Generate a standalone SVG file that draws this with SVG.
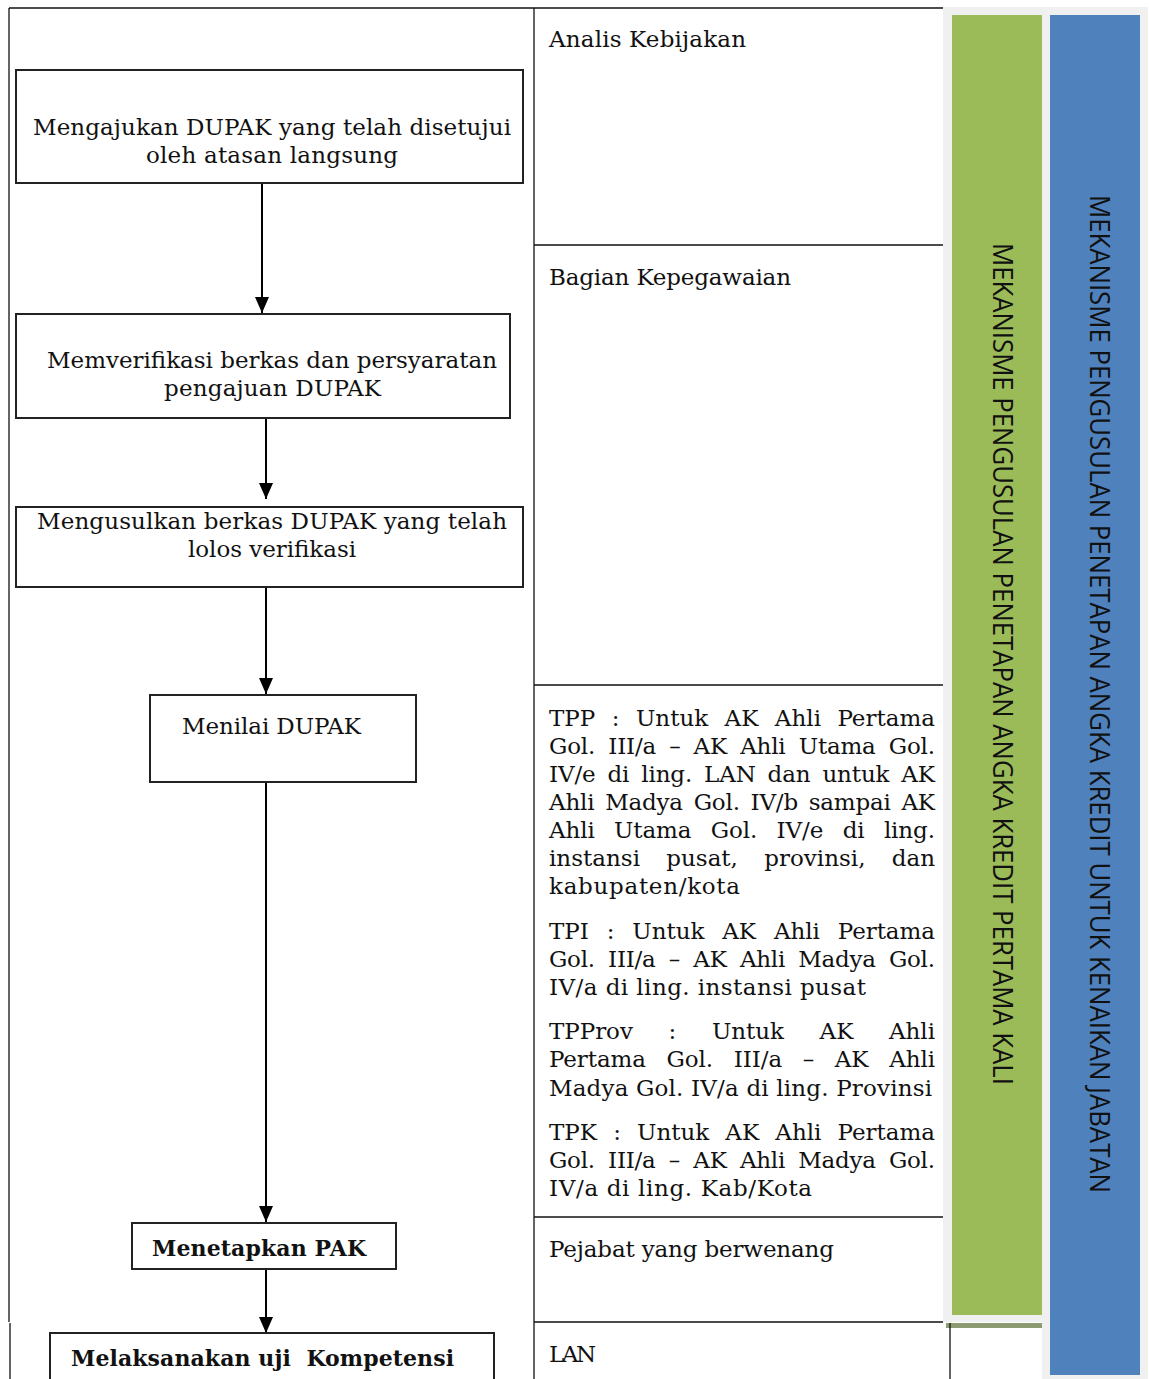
<svg xmlns="http://www.w3.org/2000/svg" width="1149" height="1379" viewBox="0 0 1149 1379">
<defs>
<style>
.t{font-family:"DejaVu Serif","Liberation Serif",serif;font-size:23px;fill:#111}
.b{font-family:"DejaVu Serif","Liberation Serif",serif;font-size:22px;font-weight:bold;fill:#111}
.v{font-family:"Open Sans","Noto Sans",sans-serif;font-size:28px;fill:#111}
.grid{stroke:#111;stroke-width:1.3;fill:none}
.box{fill:#fff;stroke:#222;stroke-width:2}
.con{stroke:#000;stroke-width:2;fill:none;marker-end:url(#arr)}
</style>
<marker id="arr" markerUnits="userSpaceOnUse" markerWidth="16" markerHeight="18" refX="16" refY="7" orient="auto">
<path d="M0,0 L16,7 L0,14 Z" fill="#000"/>
</marker>
</defs>
<rect width="1149" height="1379" fill="#fff"/>
<g id="side-panel">
<path d="M943,7 H1148 V1379 H1042 V1322 H943 Z" fill="#f0f0f0"/>
<rect x="946" y="1323" width="96" height="5" fill="#8c9a72"/>
</g>
<g id="table-grid" class="grid">
<path d="M9,8 H943"/>
<path d="M9,8 V1322"/>
<path d="M10,1323 V1379"/>
<path d="M534,8 V1379"/>
<path d="M534,245 H943"/>
<path d="M534,685 H943"/>
<path d="M534,1217 H943"/>
<path d="M534,1322 H943"/>
<path d="M950,1323 V1379"/>
</g>
<g id="bar-green">
<rect x="952" y="15" width="90" height="1300" fill="#9bbb59"/>
<text class="v" transform="translate(993,664) rotate(90)" text-anchor="middle" textLength="842" lengthAdjust="spacingAndGlyphs">MEKANISME PENGUSULAN PENETAPAN ANGKA KREDIT PERTAMA KALI</text>
</g>
<g id="bar-blue">
<rect x="1050" y="15" width="90" height="1360" fill="#4f81bd"/>
<text class="v" transform="translate(1090,694) rotate(90)" text-anchor="middle" textLength="998" lengthAdjust="spacingAndGlyphs">MEKANISME PENGUSULAN PENETAPAN ANGKA KREDIT UNTUK KENAIKAN JABATAN</text>
</g>
<g id="connectors">
<path class="con" d="M262,183 V313"/>
<path class="con" d="M266,418 V499"/>
<path class="con" d="M266,580 V694"/>
<path class="con" d="M266,765 V1222"/>
<path class="con" d="M266,1269 V1333"/>
</g>
<g id="node-1">
<rect class="box" x="16" y="70" width="507" height="113"/>
<text class="t" x="33" y="135" textLength="478" lengthAdjust="spacing">Mengajukan DUPAK yang telah disetujui</text>
<text class="t" x="146" y="163" textLength="252" lengthAdjust="spacing">oleh atasan langsung</text>
</g>
<g id="node-2">
<rect class="box" x="16" y="314" width="494" height="104"/>
<text class="t" x="47" y="368" textLength="450" lengthAdjust="spacing">Memverifikasi berkas dan persyaratan</text>
<text class="t" x="164" y="396" textLength="217" lengthAdjust="spacing">pengajuan DUPAK</text>
</g>
<g id="node-3">
<rect class="box" x="16" y="507" width="507" height="80"/>
<text class="t" x="37" y="529" textLength="470" lengthAdjust="spacing">Mengusulkan berkas DUPAK yang telah</text>
<text class="t" x="188" y="557" textLength="168" lengthAdjust="spacing">lolos verifikasi</text>
</g>
<g id="node-4">
<rect class="box" x="150" y="695" width="266" height="87"/>
<text class="t" x="182" y="734" textLength="179" lengthAdjust="spacing">Menilai DUPAK</text>
</g>
<g id="node-5">
<rect class="box" x="132" y="1223" width="264" height="46"/>
<text class="b" x="152" y="1256" textLength="214" lengthAdjust="spacing">Menetapkan PAK</text>
</g>
<g id="node-6">
<rect class="box" x="50" y="1333" width="444" height="60"/>
<text class="b" x="71" y="1366" textLength="383" lengthAdjust="spacing" xml:space="preserve">Melaksanakan uji  Kompetensi</text>
</g>
<g id="roles">
<text class="t" x="549" y="47" textLength="197" lengthAdjust="spacing">Analis Kebijakan</text>
<text class="t" x="549" y="285" textLength="242" lengthAdjust="spacing">Bagian Kepegawaian</text>
<text class="t" x="549" y="726" word-spacing="9.1" textLength="386" lengthAdjust="spacing">TPP : Untuk AK Ahli Pertama</text>
<text class="t" x="549" y="754" word-spacing="6.1" textLength="386" lengthAdjust="spacing">Gol. III/a – AK Ahli Utama Gol.</text>
<text class="t" x="549" y="782" word-spacing="4.7" textLength="386" lengthAdjust="spacing">IV/e di ling. LAN dan untuk AK</text>
<text class="t" x="549" y="810" word-spacing="3.6" textLength="386" lengthAdjust="spacing">Ahli Madya Gol. IV/b sampai AK</text>
<text class="t" x="549" y="838" word-spacing="12.2" textLength="386" lengthAdjust="spacing">Ahli Utama Gol. IV/e di ling.</text>
<text class="t" x="549" y="866" word-spacing="18.9" textLength="386" lengthAdjust="spacing">instansi pusat, provinsi, dan</text>
<text class="t" x="549" y="894" textLength="191" lengthAdjust="spacing">kabupaten/kota</text>
<text class="t" x="549" y="939" word-spacing="10.7" textLength="386" lengthAdjust="spacing">TPI : Untuk AK Ahli Pertama</text>
<text class="t" x="549" y="967" word-spacing="6.3" textLength="386" lengthAdjust="spacing">Gol. III/a – AK Ahli Madya Gol.</text>
<text class="t" x="549" y="995" textLength="317" lengthAdjust="spacing">IV/a di ling. instansi pusat</text>
<text class="t" x="549" y="1039" word-spacing="28.4" textLength="386" lengthAdjust="spacing">TPProv : Untuk AK Ahli</text>
<text class="t" x="549" y="1067" word-spacing="13.5" textLength="386" lengthAdjust="spacing">Pertama Gol. III/a – AK Ahli</text>
<text class="t" x="549" y="1096" textLength="383" lengthAdjust="spacing">Madya Gol. IV/a di ling. Provinsi</text>
<text class="t" x="549" y="1140" word-spacing="8.9" textLength="386" lengthAdjust="spacing">TPK : Untuk AK Ahli Pertama</text>
<text class="t" x="549" y="1168" word-spacing="6.3" textLength="386" lengthAdjust="spacing">Gol. III/a – AK Ahli Madya Gol.</text>
<text class="t" x="549" y="1196" textLength="263" lengthAdjust="spacing">IV/a di ling. Kab/Kota</text>
<text class="t" x="549" y="1257" textLength="285" lengthAdjust="spacing">Pejabat yang berwenang</text>
<text class="t" x="549" y="1362" textLength="47" lengthAdjust="spacing">LAN</text>
</g>
</svg>
